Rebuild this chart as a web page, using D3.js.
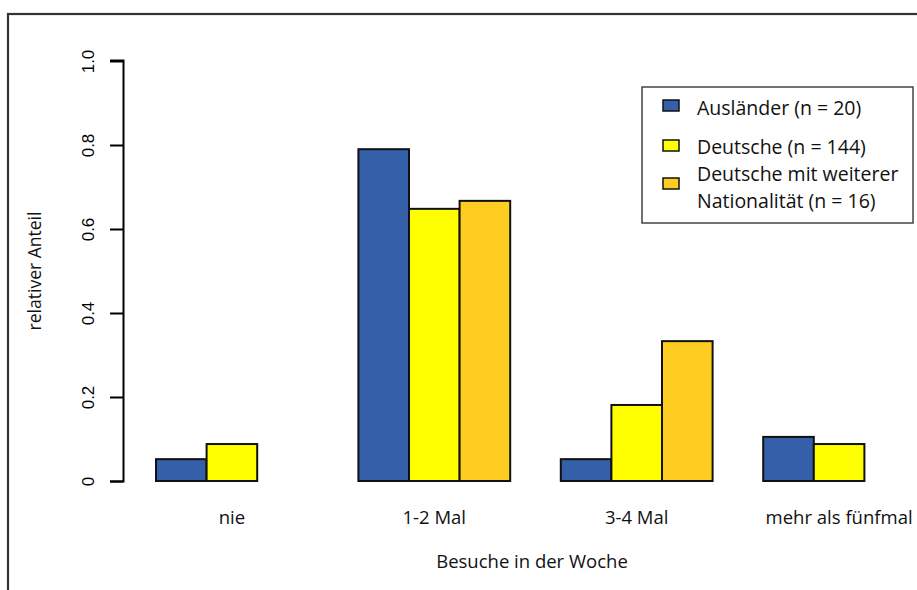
<!DOCTYPE html>
<html>
<head>
<meta charset="utf-8">
<script src="https://cdn.jsdelivr.net/npm/d3@7"></script>
<style>
html,body{margin:0;padding:0;background:#fff;}
svg{display:block;}
</style>
</head>
<body>
<svg id="chart" width="917" height="590"></svg>
<script>
const categories = ["nie", "1-2 Mal", "3-4 Mal", "mehr als fünfmal"];
const seriesNames = ["Ausländer (n = 20)", "Deutsche (n = 144)", "Deutsche mit weiterer Nationalität (n = 16)"];
const auslaender = [0.052, 0.790, 0.052, 0.105];
const deutsche = [0.088, 0.648, 0.181, 0.088];
const deutscheWeitere = [0.000, 0.667, 0.333, 0.000];
const yTicks = [0, 0.2, 0.4, 0.6, 0.8, 1.0];
const yTickLabels = ["0", "0.2", "0.4", "0.6", "0.8", "1.0"];
const colors = ["#3560a9", "#ffff00", "#ffcd22"];

const series = [auslaender, deutsche, deutscheWeitere];
const svg = d3.select("#chart");
const labelFont = "Open Sans, sans-serif";

// outer frame
svg.append("rect").attr("x", 8).attr("y", 14).attr("width", 1000).attr("height", 1000)
  .attr("fill", "none").attr("stroke", "#333").attr("stroke-width", 2.2);

const y = d3.scaleLinear().domain([0, 1]).range([481, 61]);
const x0 = d3.scaleBand().domain(categories).range([156, 915]).paddingInner(0.25).paddingOuter(0);
const x1 = d3.scaleBand().domain(d3.range(series.length)).range([0, x0.bandwidth()]);

// y axis
const yAxis = d3.axisLeft(y).tickValues(yTicks).tickFormat((d, i) => yTickLabels[i]).tickSize(13).tickPadding(0);
const gy = svg.append("g").attr("transform", "translate(123,0)").call(yAxis);
gy.select(".domain").attr("d", "M-13,481.5H0.5V60.5H-13").attr("stroke", "#000").attr("stroke-width", 2).attr("fill", "none");
gy.selectAll(".tick line").attr("stroke", "#000").attr("stroke-width", 2);
gy.selectAll(".tick text")
  .attr("transform", "rotate(-90)")
  .attr("x", 0).attr("y", -35)
  .attr("dy", "0.35em")
  .attr("text-anchor", "middle")
  .attr("font-family", "Liberation Sans, Arial, sans-serif")
  .attr("font-size", 17)
  .attr("fill", "#000");

// bars
const groups = svg.append("g").selectAll("g").data(categories).join("g")
  .attr("transform", d => `translate(${x0(d)},0)`);
groups.selectAll("rect")
  .data((c, ci) => series.map((s, si) => ({si, v: s[ci]})))
  .join("rect")
  .attr("x", d => x1(d.si))
  .attr("width", x1.bandwidth())
  .attr("y", d => y(d.v))
  .attr("height", d => y(0) - y(d.v))
  .attr("fill", d => colors[d.si])
  .attr("stroke", "#111")
  .attr("stroke-width", 2);

// category labels
svg.append("g").selectAll("text").data(categories).join("text")
  .attr("x", d => x0(d) + x0.bandwidth() / 2)
  .attr("y", 524)
  .attr("text-anchor", "middle")
  .attr("font-family", labelFont)
  .attr("font-size", 18.5)
  .attr("fill", "#111")
  .text(d => d);

// axis titles
svg.append("text").attr("x", 532).attr("y", 568).attr("text-anchor", "middle")
  .attr("font-family", labelFont).attr("font-size", 18.5).attr("fill", "#111")
  .text("Besuche in der Woche");
svg.append("text").attr("transform", "translate(41,271) rotate(-90)").attr("text-anchor", "middle")
  .attr("font-family", labelFont).attr("font-size", 17.5).attr("fill", "#111")
  .text("relativer Anteil");

// legend
const lg = svg.append("g");
lg.append("rect").attr("x", 642).attr("y", 87).attr("width", 271).attr("height", 136)
  .attr("fill", "#fff").attr("stroke", "#444").attr("stroke-width", 1.5);
const legendRows = [
  {lines: ["Ausländer (n = 20)"], sy: 100, ty: [115]},
  {lines: ["Deutsche (n = 144)"], sy: 140, ty: [154]},
  {lines: ["Deutsche mit weiterer", "Nationalität (n = 16)"], sy: 178, ty: [181, 208]}
];
legendRows.forEach((r, i) => {
  lg.append("rect").attr("x", 663).attr("y", r.sy).attr("width", 16).attr("height", 11)
    .attr("fill", colors[i]).attr("stroke", "#111").attr("stroke-width", 1.5);
  r.lines.forEach((t, j) => {
    lg.append("text").attr("x", 697).attr("y", r.ty[j])
      .attr("font-family", labelFont).attr("font-size", 19.5).attr("fill", "#111")
      .text(j === 0 && r.lines.length === 1 ? seriesNames[i] : t);
  });
});
</script>
</body>
</html>
